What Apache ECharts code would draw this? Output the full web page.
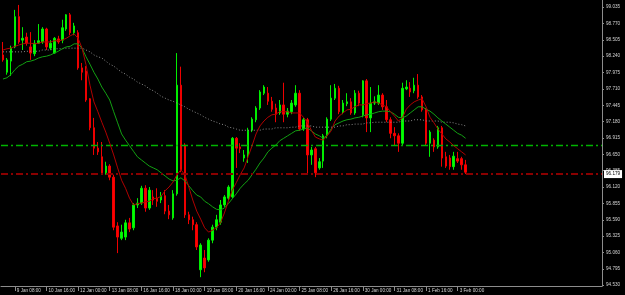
<!DOCTYPE html>
<html>
<head>
<meta charset="utf-8">
<title>H4 chart</title>
<script src="https://cdn.jsdelivr.net/npm/echarts@6/dist/echarts.min.js"></script>
<style>
  html, body { margin: 0; padding: 0; background: #000; }
  #chart { width: 625px; height: 295px; }
</style>
</head>
<body>
<div id="chart"></div>
<script>
// H4 bars, 6 Jan 20:00 .. 3 Feb 08:00
const firstDay = "6 Jan";
const fullDays = ["9 Jan", "10 Jan", "11 Jan", "12 Jan", "13 Jan", "16 Jan", "17 Jan", "18 Jan", "19 Jan", "20 Jan",
  "23 Jan", "24 Jan", "25 Jan", "26 Jan", "27 Jan", "30 Jan", "31 Jan", "1 Feb", "2 Feb"];
const lastDay = "3 Feb";
const hours = ["00:00", "04:00", "08:00", "12:00", "16:00", "20:00"];

const opens = [98.26, 97.98, 98.16, 98.39, 98.88, 98.50, 98.55, 98.39, 98.28, 98.45,
  98.47, 98.68, 98.37, 98.29, 98.52, 98.50, 98.68, 98.91, 98.62, 98.62,
  98.05, 98.00, 97.55, 97.08, 96.75, 96.61, 96.35, 96.46, 96.28, 95.49,
  95.29, 95.31, 95.54, 95.46, 95.83, 95.86, 96.10, 95.78, 95.96, 95.94,
  95.91, 95.98, 95.73, 95.62, 96.01, 97.77, 96.80, 95.67, 95.59, 95.51,
  94.78, 94.97, 94.94, 95.26, 95.47, 95.55, 95.83, 95.94, 95.96, 96.91,
  96.77, 96.59, 96.64, 97.04, 97.21, 97.40, 97.64, 97.64, 97.51, 97.40,
  97.32, 97.45, 97.30, 97.34, 97.45, 97.64, 97.06, 97.21, 96.64, 96.74,
  96.43, 96.54, 96.95, 97.22, 97.56, 97.72, 97.34, 97.47, 97.50, 97.32,
  97.64, 97.29, 97.84, 97.24, 97.48, 97.48, 97.61, 97.42, 97.21, 96.99,
  96.95, 96.83, 97.71, 97.72, 97.68, 97.77, 97.58, 97.37, 96.83, 96.88,
  96.77, 97.08, 96.61, 96.59, 96.45, 96.58, 96.58, 96.48];
const closes = [98.18, 98.18, 98.37, 98.88, 98.47, 98.53, 98.45, 98.29, 98.45, 98.49,
  98.68, 98.39, 98.45, 98.53, 98.47, 98.70, 98.91, 98.62, 98.73, 98.05,
  97.98, 97.53, 97.08, 96.75, 96.69, 96.35, 96.46, 96.28, 95.47, 95.31,
  95.39, 95.54, 95.44, 95.83, 95.86, 96.10, 95.78, 96.07, 95.91, 95.89,
  95.98, 95.73, 95.67, 96.01, 97.77, 96.40, 95.67, 95.59, 95.51, 95.15,
  95.18, 94.81, 95.26, 95.47, 95.59, 95.83, 95.96, 96.12, 96.91, 96.75,
  96.74, 96.64, 97.04, 97.22, 97.40, 97.66, 97.74, 97.51, 97.38, 97.30,
  97.45, 97.30, 97.35, 97.48, 97.64, 97.06, 97.21, 96.64, 96.72, 96.35,
  96.53, 96.95, 97.22, 97.56, 97.72, 97.34, 97.48, 97.50, 97.32, 97.64,
  97.48, 97.84, 97.24, 97.48, 97.50, 97.61, 97.42, 97.21, 96.99, 96.95,
  96.83, 97.72, 97.74, 97.66, 97.77, 97.58, 97.37, 96.83, 97.01, 96.77,
  97.08, 96.59, 96.46, 96.45, 96.62, 96.54, 96.48, 96.36];
const lows = [98.15, 97.94, 97.92, 98.37, 98.44, 98.34, 98.41, 98.18, 98.24, 98.44,
  98.44, 98.34, 98.34, 98.28, 98.44, 98.45, 98.65, 98.58, 98.58, 98.02,
  97.85, 97.50, 97.04, 96.64, 96.64, 96.32, 96.32, 96.23, 95.42, 95.05,
  95.26, 95.26, 95.39, 95.42, 95.78, 95.83, 95.72, 95.75, 95.83, 95.80,
  95.86, 95.68, 95.60, 95.59, 95.98, 96.36, 95.62, 95.52, 95.42, 95.10,
  94.66, 94.74, 94.91, 95.21, 95.42, 95.51, 95.80, 95.91, 95.94, 96.43,
  96.67, 96.53, 96.51, 97.01, 97.17, 97.37, 97.61, 97.45, 97.34, 97.17,
  97.29, 97.17, 97.25, 97.30, 97.42, 97.03, 97.03, 96.32, 96.48, 96.28,
  96.40, 96.43, 96.91, 97.19, 97.53, 97.30, 97.30, 97.43, 97.29, 97.29,
  97.43, 97.25, 97.01, 97.01, 97.45, 97.45, 97.37, 97.17, 96.91, 96.80,
  96.69, 96.80, 97.69, 97.58, 97.64, 97.55, 97.34, 96.80, 96.61, 96.69,
  96.74, 96.45, 96.43, 96.40, 96.40, 96.51, 96.40, 96.33];
const highs = [98.47, 98.21, 98.41, 98.99, 99.07, 98.71, 98.62, 98.63, 98.50, 98.76,
  98.71, 98.70, 98.50, 98.55, 98.57, 98.83, 98.92, 98.94, 98.78, 98.66,
  98.13, 98.08, 97.56, 97.24, 96.85, 96.85, 96.53, 96.49, 96.32, 95.55,
  95.51, 95.59, 95.62, 95.86, 95.94, 96.14, 96.15, 96.12, 96.07, 96.10,
  96.04, 96.07, 95.83, 96.07, 98.29, 98.07, 96.83, 95.72, 95.64, 95.55,
  95.21, 95.10, 95.29, 95.51, 95.67, 95.91, 95.99, 96.15, 96.93, 96.93,
  96.83, 96.72, 97.08, 97.25, 97.43, 97.69, 97.77, 97.74, 97.58, 97.47,
  97.53, 97.81, 97.40, 97.53, 97.77, 97.69, 97.24, 97.24, 96.77, 96.77,
  96.59, 96.98, 97.25, 97.77, 97.79, 97.76, 97.53, 97.64, 97.56, 97.69,
  97.68, 97.85, 97.87, 97.74, 97.59, 97.77, 97.64, 97.53, 97.25, 97.09,
  96.99, 97.81, 97.85, 97.82, 97.89, 97.95, 97.61, 97.40, 97.04, 96.91,
  97.11, 97.11, 96.69, 96.64, 96.69, 96.69, 96.61, 96.56];

// moving averages as drawn on the chart
const maFast = [98.34, 98.36, 98.37, 98.40, 98.42, 98.44, 98.45, 98.45, 98.44, 98.45,
  98.47, 98.47, 98.47, 98.49, 98.49, 98.50, 98.53, 98.57, 98.60, 98.53,
  98.37, 98.10, 97.77, 97.50, 97.34, 97.17, 97.01, 96.83, 96.64, 96.43,
  96.23, 96.10, 95.94, 95.83, 95.85, 95.86, 95.88, 95.89, 95.93, 95.94,
  95.97, 96.06, 96.12, 96.20, 96.32, 96.40, 96.32, 96.12, 95.91, 95.73,
  95.60, 95.46, 95.39, 95.42, 95.46, 95.54, 95.70, 95.89, 96.07, 96.19,
  96.32, 96.43, 96.61, 96.79, 96.98, 97.11, 97.19, 97.25, 97.29, 97.30,
  97.34, 97.34, 97.34, 97.32, 97.32, 97.32, 97.25, 97.17, 97.04, 96.93,
  96.90, 96.88, 96.95, 97.03, 97.19, 97.27, 97.32, 97.37, 97.38, 97.42,
  97.45, 97.45, 97.47, 97.48, 97.50, 97.48, 97.45, 97.42, 97.34, 97.27,
  97.19, 97.24, 97.38, 97.45, 97.50, 97.53, 97.55, 97.42, 97.25, 97.16,
  97.06, 96.98, 96.90, 96.85, 96.79, 96.74, 96.69, 96.64];
const maMid = [97.87, 97.89, 97.94, 98.02, 98.08, 98.11, 98.15, 98.16, 98.18, 98.21,
  98.23, 98.24, 98.26, 98.29, 98.32, 98.36, 98.39, 98.40, 98.44, 98.44,
  98.37, 98.23, 98.11, 97.98, 97.87, 97.74, 97.64, 97.53, 97.34, 97.16,
  96.98, 96.88, 96.79, 96.70, 96.61, 96.56, 96.51, 96.46, 96.43, 96.40,
  96.35, 96.30, 96.25, 96.22, 96.23, 96.27, 96.22, 96.14, 96.06, 95.99,
  95.96, 95.89, 95.85, 95.80, 95.76, 95.75, 95.78, 95.85, 95.93, 96.01,
  96.10, 96.17, 96.23, 96.32, 96.41, 96.51, 96.59, 96.69, 96.75, 96.80,
  96.87, 96.91, 96.95, 96.99, 97.03, 97.04, 97.06, 97.08, 97.03, 96.98,
  96.95, 96.91, 96.96, 97.06, 97.13, 97.16, 97.19, 97.21, 97.22, 97.24,
  97.25, 97.27, 97.29, 97.30, 97.32, 97.34, 97.35, 97.35, 97.34, 97.30,
  97.25, 97.24, 97.27, 97.32, 97.37, 97.42, 97.42, 97.38, 97.35, 97.30,
  97.24, 97.19, 97.14, 97.09, 97.04, 96.99, 96.96, 96.91];
const maSlow = [98.31, 98.31, 98.31, 98.31, 98.31, 98.31, 98.32, 98.32, 98.32, 98.32,
  98.34, 98.34, 98.34, 98.36, 98.36, 98.36, 98.37, 98.37, 98.37, 98.37,
  98.37, 98.34, 98.31, 98.26, 98.23, 98.21, 98.16, 98.11, 98.08, 98.03,
  97.98, 97.95, 97.90, 97.87, 97.82, 97.79, 97.76, 97.71, 97.68, 97.64,
  97.59, 97.56, 97.53, 97.51, 97.48, 97.45, 97.42, 97.38, 97.35, 97.32,
  97.29, 97.25, 97.22, 97.19, 97.17, 97.14, 97.13, 97.09, 97.08, 97.06,
  97.04, 97.04, 97.04, 97.04, 97.04, 97.04, 97.06, 97.06, 97.06, 97.08,
  97.08, 97.08, 97.08, 97.09, 97.09, 97.11, 97.11, 97.11, 97.11, 97.09,
  97.09, 97.09, 97.09, 97.09, 97.09, 97.11, 97.11, 97.13, 97.13, 97.14,
  97.14, 97.14, 97.16, 97.16, 97.17, 97.17, 97.17, 97.17, 97.17, 97.17,
  97.17, 97.19, 97.19, 97.19, 97.21, 97.21, 97.21, 97.19, 97.19, 97.19,
  97.19, 97.17, 97.17, 97.17, 97.16, 97.14, 97.13, 97.11];

// right-hand price scale
const priceTicks = [99.035, 98.770, 98.505, 98.240, 97.975, 97.710, 97.445, 97.180, 96.915,
  96.650, 96.385, 96.120, 95.855, 95.590, 95.325, 95.060, 94.795, 94.530];
const levelLine = 96.80;
const bidLevel = 96.33;
const bidPrice = 96.179;

const barTimes = [firstDay + " 20:00"];
fullDays.forEach(d => hours.forEach(h => barTimes.push(d + " " + h)));
["00:00", "04:00", "08:00"].forEach(h => barTimes.push(lastDay + " " + h));

const slots = 152; // chart shifted: empty space on the right
const xCats = barTimes.concat(new Array(slots - barTimes.length).fill(""));
const labelEvery = 8;
const firstLabel = 3;
const showLabel = idx => idx >= firstLabel && idx < barTimes.length && (idx - firstLabel) % labelEvery === 0;

const candles = opens.map((o, i) => [o, closes[i], lows[i], highs[i]]);

const axisGray = "#8c8c8c";
const textColor = "#d4d4d4";
const font = "Liberation Sans";
const dashDot = [7, 3, 2, 3];

const chart = echarts.init(document.getElementById("chart"), null, { renderer: "canvas" });
chart.setOption({
  backgroundColor: "#000",
  animation: false,
  grid: { left: 1, right: 23, top: 0, bottom: 9 },
  xAxis: {
    type: "category",
    data: xCats,
    boundaryGap: true,
    axisLine: { lineStyle: { color: axisGray, width: 1 } },
    axisTick: { show: true, alignWithLabel: true, interval: showLabel, length: 5, lineStyle: { color: axisGray } },
    axisLabel: {
      interval: showLabel,
      align: "left",
      margin: 2,
      padding: [0, 0, 0, 2],
      color: textColor,
      fontSize: 4.6,
      fontFamily: font
    },
    splitLine: { show: false }
  },
  yAxis: {
    type: "value",
    position: "right",
    min: 94.517,
    max: 99.15,
    axisLine: { show: true, lineStyle: { color: axisGray, width: 1 } },
    axisTick: { show: true, length: 2, customValues: priceTicks, lineStyle: { color: axisGray } },
    axisLabel: {
      customValues: priceTicks,
      formatter: v => v.toFixed(3),
      margin: 4,
      align: "left",
      color: textColor,
      fontSize: 4.6,
      fontFamily: font
    },
    splitLine: { show: false }
  },
  series: [
    {
      type: "candlestick",
      data: candles,
      barWidth: 2,
      itemStyle: {
        color: "#00ff00",
        color0: "#ff0000",
        borderColor: "#00ee00",
        borderColor0: "#ee0000",
        borderWidth: 1
      },
      markLine: {
        silent: true,
        symbol: "none",
        lineStyle: { color: "#8a0000", width: 2, type: dashDot },
        data: [
          {
            yAxis: bidLevel,
            label: {
              show: true,
              position: "end",
              distance: 2,
              formatter: () => bidPrice.toFixed(3),
              color: "#000",
              backgroundColor: "#ffffff",
              padding: [2, 2, 1, 2],
              fontSize: 4.6,
              fontFamily: font
            }
          }
        ]
      }
    },
    {
      // horizontal level line, green dash-dot
      type: "line",
      name: "level",
      data: [],
      silent: true,
      itemStyle: { color: "#00b400" },
      markLine: {
        silent: true,
        symbol: "none",
        label: { show: false },
        emphasis: { disabled: true },
        lineStyle: { color: "#00b400", width: 1.4, type: dashDot, opacity: 1 },
        data: [{ yAxis: levelLine }]
      }
    },
    {
      type: "line",
      data: maSlow,
      symbol: "none",
      z: 3,
      lineStyle: { color: "#8a8a8a", width: 1, type: [1, 2] }
    },
    {
      type: "line",
      data: maMid,
      symbol: "none",
      z: 4,
      lineStyle: { color: "#12a012", width: 1 }
    },
    {
      type: "line",
      data: maFast,
      symbol: "none",
      z: 5,
      lineStyle: { color: "#b00000", width: 1 }
    }
  ]
});
</script>
</body>
</html>
